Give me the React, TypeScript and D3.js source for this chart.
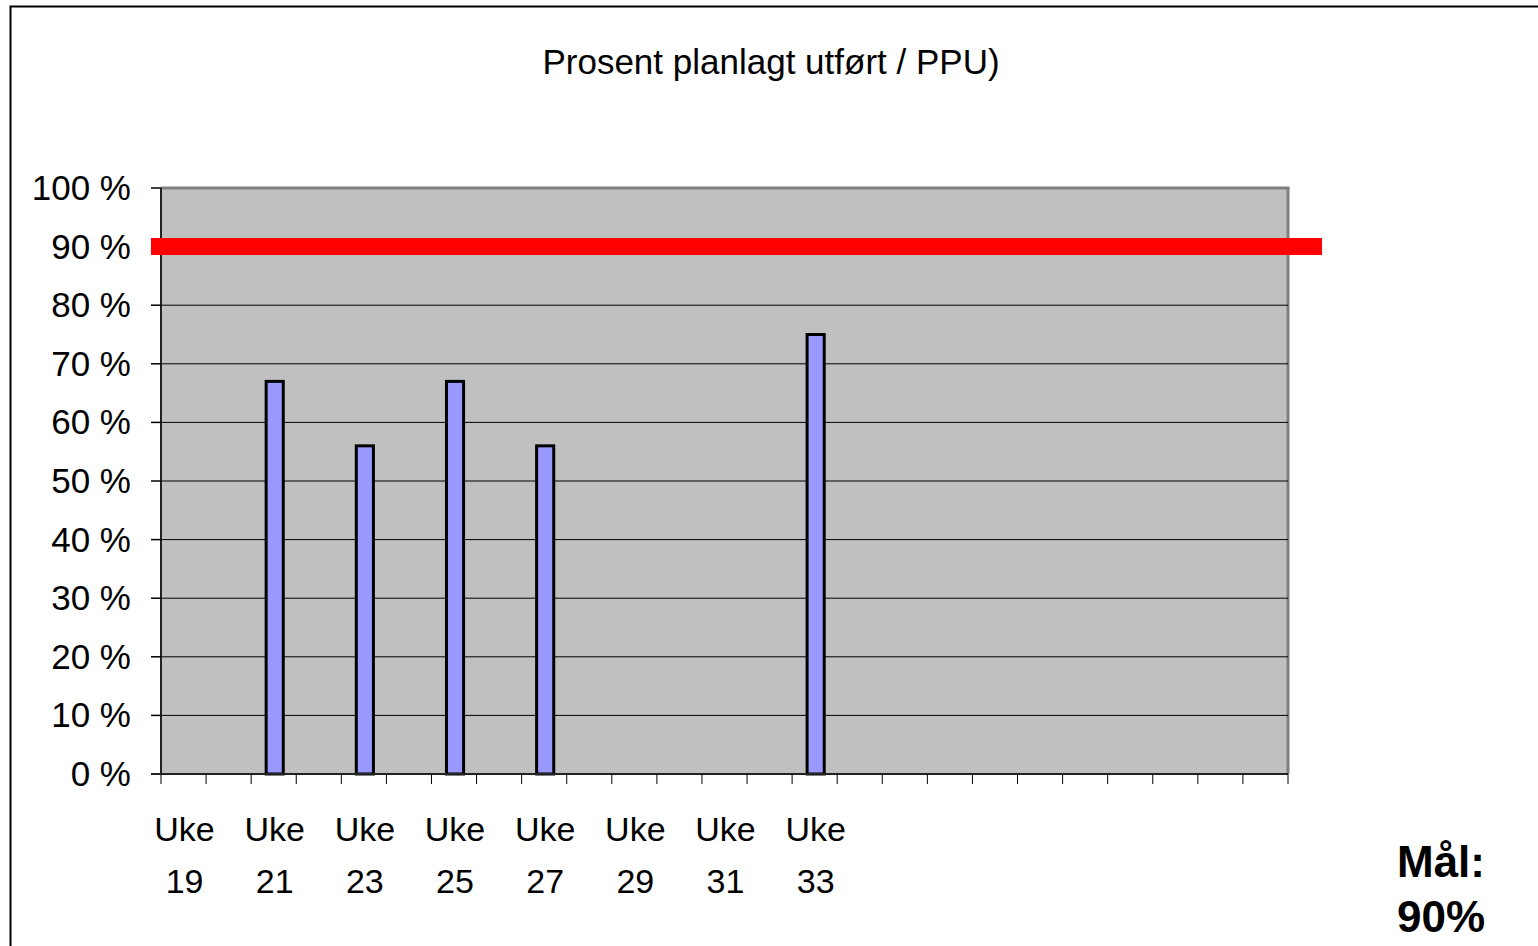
import * as d3 from 'd3'

// weeks on the category axis (25 slots, only the first ones have labels)
const weeks = [19, 20, 21, 22, 23, 24, 25, 26, 27, 28, 29, 30, 31, 32, 33, 34, 35, 36, 37, 38, 39, 40, 41, 42, 43]
const labelledWeeks = [19, 21, 23, 25, 27, 29, 31, 33]
// percent planned completed per week (null = no data)
const ppu: (number | null)[] = [null, null, 67, null, 56, null, 67, null, 56, null, null, null, null, null, 75, null, null, null, null, null, null, null, null, null, null]
const target = 90
const yTicks = [0, 10, 20, 30, 40, 50, 60, 70, 80, 90, 100]

const W = 1538
const H = 946
const margin = { top: 188, right: 250, bottom: 172, left: 161 }
const font = '"Liberation Sans", Arial, sans-serif'

export default function App() {
  const x = d3.scaleBand<number>().domain(weeks).range([margin.left, W - margin.right]).paddingInner(0)
  const y = d3.scaleLinear().domain([0, 100]).range([H - margin.bottom, margin.top])
  const x0 = margin.left
  const x1 = W - margin.right
  const bw = x.bandwidth()
  const barW = bw * 0.38

  return (
    <svg width={W} height={H} style={{ position: 'absolute', left: 0, top: 0, background: '#fff' }} fontFamily={font}>
      <rect x={10.5} y={6.5} width={W + 20} height={H + 20} fill="#fff" stroke="#000" strokeWidth={2} />
      <text x={771} y={74} textAnchor="middle" fontSize={35} fill="#000">Prosent planlagt utført / PPU)</text>

      {/* plot area */}
      <rect x={x0} y={y(100)} width={x1 - x0} height={y(0) - y(100)} fill="#c0c0c0" />
      <line x1={x0} x2={x1 + 1.5} y1={y(100)} y2={y(100)} stroke="#808080" strokeWidth={3} />
      <line x1={x1} x2={x1} y1={y(100)} y2={y(0)} stroke="#808080" strokeWidth={3} />

      {yTicks.filter(t => t > 0 && t < 100).map(t => (
        <line key={t} x1={x0} x2={x1} y1={y(t)} y2={y(t)} stroke="#000" strokeWidth={1} />
      ))}

      {/* y axis */}
      <line x1={x0} x2={x0} y1={y(100)} y2={y(0)} stroke="#222" strokeWidth={2} />
      {yTicks.map(t => (
        <g key={t}>
          <line x1={x0 - 10} x2={x0} y1={y(t)} y2={y(t)} stroke="#000" strokeWidth={1.5} />
          <text x={131} y={y(t) + 12} textAnchor="end" fontSize={35} fill="#000">{t} %</text>
        </g>
      ))}

      {/* bars */}
      {weeks.map((w, i) => {
        const v = ppu[i]
        if (v == null) return null
        const cx = (x(w) ?? 0) + bw / 2
        return (
          <rect key={w} x={cx - barW / 2 + 1} y={y(v)} width={barW} height={y(0) - y(v)}
            fill="#9999ff" stroke="#000" strokeWidth={3} />
        )
      })}

      {/* x axis */}
      <line x1={x0 - 10} x2={x1} y1={y(0)} y2={y(0)} stroke="#222" strokeWidth={2} />
      {[...weeks.map(w => x(w) ?? 0), x1].map((px, i) => (
        <line key={i} x1={px} x2={px} y1={y(0)} y2={y(0) + 10} stroke="#000" strokeWidth={1} />
      ))}
      {labelledWeeks.map(w => {
        const cx = (x(w) ?? 0) + bw / 2
        return (
          <text key={w} x={cx} textAnchor="middle" fontSize={34} fill="#000">
            <tspan x={cx + 1} y={841}>Uke</tspan>
            <tspan x={cx + 1} y={893}>{w}</tspan>
          </text>
        )
      })}

      {/* target line */}
      <line x1={x0 - 10} x2={x1 + 34} y1={y(target)} y2={y(target)} stroke="#ff0000" strokeWidth={17} />

      <text x={1397} y={877} fontSize={44} fontWeight="bold" fill="#000">Mål:</text>
      <text x={1397} y={932} fontSize={44} fontWeight="bold" fill="#000">{target}%</text>
    </svg>
  )
}
